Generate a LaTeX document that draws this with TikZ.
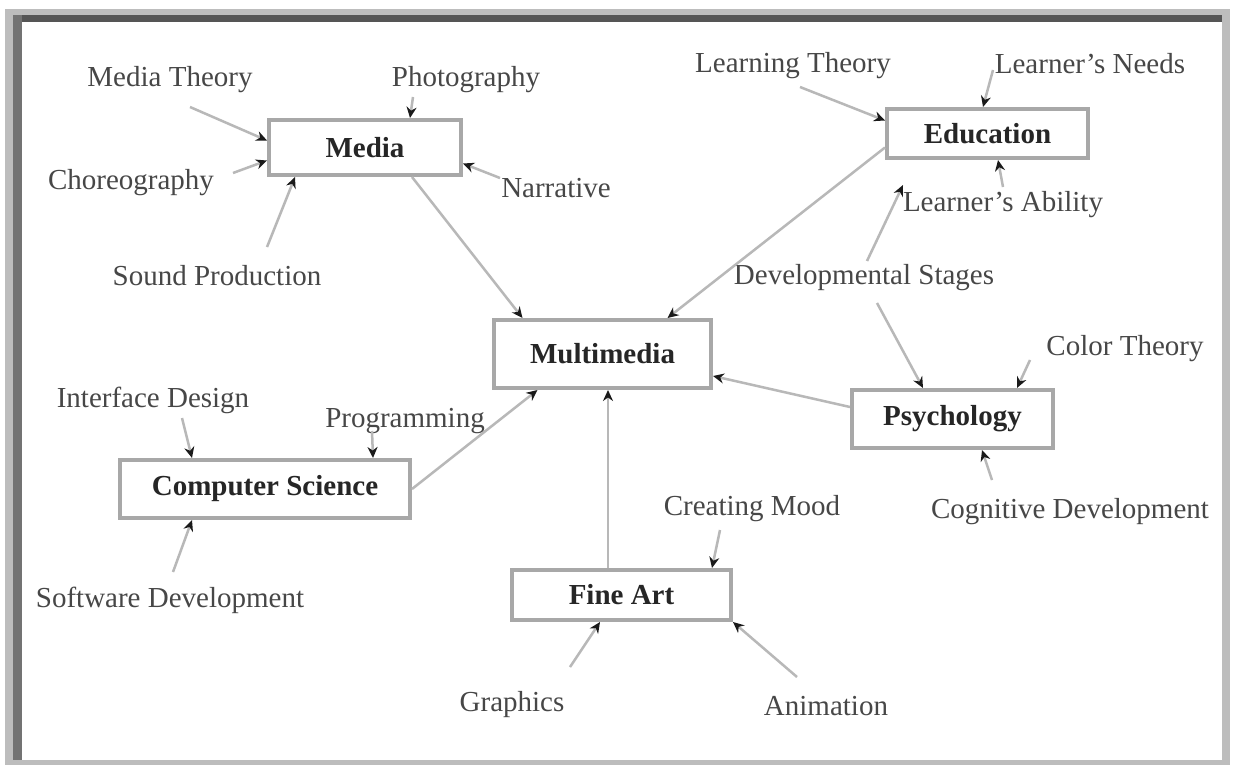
\documentclass[tikz,border=0pt]{standalone}
\usepackage{fontspec}
\setmainfont{Liberation Serif}
\usetikzlibrary{arrows.meta,calc}
\definecolor{framelight}{HTML}{BDBDBD}
\definecolor{darktop}{HTML}{555555}
\definecolor{darkleft}{HTML}{737373}
\definecolor{boxgray}{HTML}{A8A8A8}
\definecolor{linegray}{HTML}{B8B8B8}
\definecolor{tipdark}{HTML}{1A1A1A}
\begin{document}
\begin{tikzpicture}[x=1pt,y=-1pt,
  box/.style={draw=boxgray, line width=4pt, fill=white, inner sep=0pt,
    font=\bfseries\fontsize{29}{34}\selectfont, text=black!85},
  leaf/.style={inner sep=1pt, font=\fontsize{29}{34}\selectfont, text=black!72},
  conn/.style={draw=linegray, line width=2.5pt,
    -{Stealth[length=11pt,width=10pt,color=tipdark]}}]
\useasboundingbox (0,0) rectangle (1233,765);
% frame
\fill[framelight] (5,9) rectangle (1230,765);
\fill[white] (22,22) rectangle (1222,760);
\fill[darktop] (13,15) rectangle (1222,22);
\fill[darkleft] (13,15) rectangle (22,760);
% boxes
\node[box, minimum width=192pt, minimum height=55pt] (media) at (365,147.5) {Media};
\node[box, minimum width=217pt, minimum height=68pt] (multi) at (602.5,354) {Multimedia};
\node[box, minimum width=201pt, minimum height=49pt] (edu) at (987.5,133.5) {Education};
\node[box, minimum width=201pt, minimum height=58pt] (psych) at (952.5,419) {Psychology};
\node[box, minimum width=290pt, minimum height=58pt] (cs) at (265,489) {Computer Science};
\node[box, minimum width=219pt, minimum height=50pt] (fine) at (621.5,595) {Fine Art};
% leaves
\node[leaf] (mtheory) at (170,80) {Media Theory};
\node[leaf] (photo) at (466,80) {Photography};
\node[leaf] (choreo) at (131,183) {Choreography};
\node[leaf] (narr) at (556,188) {Narrative};
\node[leaf] (sound) at (217,276) {Sound Production};
\node[leaf] (ltheory) at (793,66) {Learning Theory};
\node[leaf] (lneeds) at (1090,64) {Learner's Needs};
\node[leaf] (ability) at (1003,205) {Learner's Ability};
\node[leaf] (devst) at (864,278) {Developmental Stages};
\node[leaf] (color) at (1125,349) {Color Theory};
\node[leaf] (cogdev) at (1070,512) {Cognitive Development};
\node[leaf] (iface) at (153,400) {Interface Design};
\node[leaf] (prog) at (405,421) {Programming};
\node[leaf] (softdev) at (170,600) {Software Development};
\node[leaf] (mood) at (752,509) {Creating Mood};
\node[leaf] (graphics) at (512,705) {Graphics};
\node[leaf] (anim) at (826,706) {Animation};
% connectors into Media
\draw[conn] ($(mtheory.center)+(20,27)$) -- ($(media.west)+(0,-7)$);
\draw[conn] ($(choreo.center)+(102,-10)$) -- ($(media.west)+(0,13)$);
\draw[conn] ($(photo.center)+(-53,17)$) -- ($(media.north)+(45,0)$);
\draw[conn] ($(sound.center)+(50,-29)$) -- ($(media.south)+(-70,0)$);
\draw[conn] ($(narr.center)+(-56,-10)$) -- ($(media.east)+(0,16)$);
% connectors into Multimedia
\draw[conn] ($(media.south)+(47,0)$) -- ($(multi.north)+(-80,0)$);
\draw[conn] ($(edu.west)+(0,14)$) -- ($(multi.north)+(65,0)$);
\draw[conn] ($(psych.west)+(0,-12)$) -- ($(multi.east)+(0,22)$);
\draw[conn] (cs.east) -- ($(multi.south)+(-65,0)$);
\draw[conn] ($(fine.north)+(-13.5,0)$) -- ($(multi.south)+(5.5,0)$);
% connectors into Education
\draw[conn] ($(ltheory.center)+(7,21)$) -- ($(edu.west)+(0,-13)$);
\draw[conn] ($(lneeds.center)+(-97,6)$) -- ($(edu.north)+(-4.5,0)$);
\draw[conn] ($(ability.center)+(0,-18)$) -- ($(edu.south)+(10.5,0)$);
\draw[conn] ($(devst.center)+(3,-17)$) -- ($(ability.center)+(-100,-20)$);
% connectors into Psychology
\draw[conn] ($(devst.center)+(13,25)$) -- ($(psych.north)+(-29.5,0)$);
\draw[conn] ($(color.center)+(-95,11)$) -- ($(psych.north)+(64.5,0)$);
\draw[conn] ($(cogdev.center)+(-78,-32)$) -- ($(psych.south)+(29.5,0)$);
% connectors into Computer Science
\draw[conn] ($(iface.center)+(29,18)$) -- ($(cs.north)+(-73,0)$);
\draw[conn] ($(prog.center)+(-33,10)$) -- ($(cs.north)+(108,0)$);
\draw[conn] ($(softdev.center)+(3,-28)$) -- ($(cs.south)+(-73,0)$);
% connectors into Fine Art
\draw[conn] ($(mood.center)+(-32,21)$) -- ($(fine.north)+(90.5,0)$);
\draw[conn] ($(graphics.center)+(58,-38)$) -- ($(fine.south)+(-21.5,0)$);
\draw[conn] ($(anim.center)+(-29,-29)$) -- (fine.south east);
\end{tikzpicture}
\end{document}
